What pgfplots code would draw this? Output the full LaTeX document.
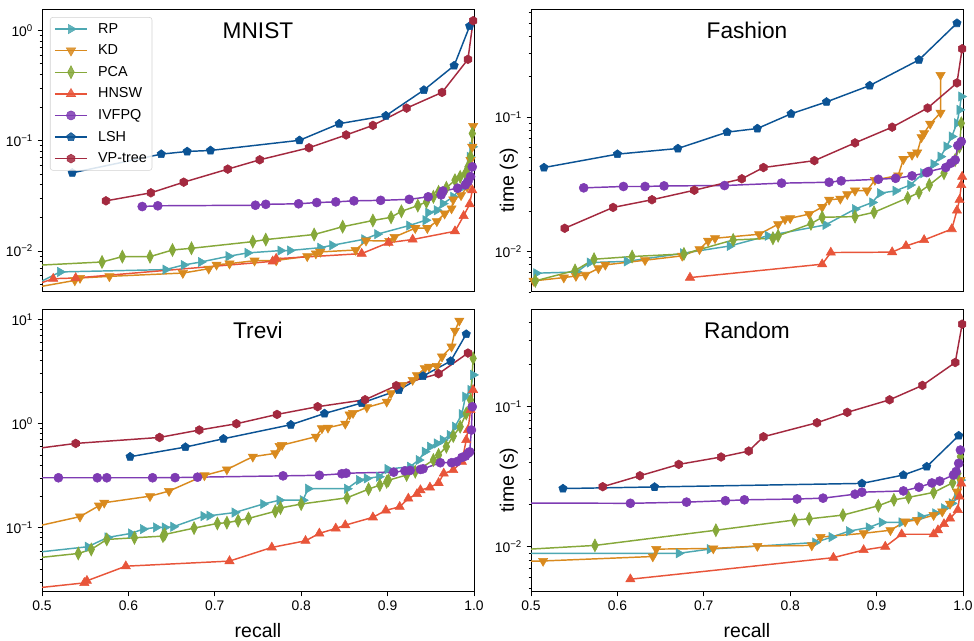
\documentclass[border=0pt]{standalone}
\usepackage{fontspec}
\setmainfont{Liberation Sans}
\usepackage{pgfplots}
\pgfplotsset{compat=1.18}
\usetikzlibrary{plotmarks}

\definecolor{cRP}{HTML}{4DA8B2}
\definecolor{cKD}{HTML}{D98A1E}
\definecolor{cPCA}{HTML}{86A83A}
\definecolor{cHNSW}{HTML}{E8553A}
\definecolor{cIVF}{HTML}{7E3BB3}
\definecolor{cLSH}{HTML}{0B5394}
\definecolor{cVP}{HTML}{A3293F}

% matplotlib 'h' marker
\pgfdeclareplotmark{hexagon*}{%
  \pgfpathmoveto{\pgfpointpolar{90}{\pgfplotmarksize}}%
  \pgfpathlineto{\pgfpointpolar{150}{\pgfplotmarksize}}%
  \pgfpathlineto{\pgfpointpolar{210}{\pgfplotmarksize}}%
  \pgfpathlineto{\pgfpointpolar{270}{\pgfplotmarksize}}%
  \pgfpathlineto{\pgfpointpolar{330}{\pgfplotmarksize}}%
  \pgfpathlineto{\pgfpointpolar{30}{\pgfplotmarksize}}%
  \pgfpathclose
  \pgfusepathqfillstroke}

\pgfplotsset{
  sRP/.style={color=cRP, mark=triangle*, mark size=4pt, mark options={solid, rotate=-90, line width=0.4pt}},
  sKD/.style={color=cKD, mark=triangle*, mark size=4pt, mark options={solid, rotate=180, line width=0.4pt}},
  sPCA/.style={color=cPCA, mark=diamond*, mark size=4.8pt, mark options={solid, xscale=0.68, line width=0.5pt}},
  sHNSW/.style={color=cHNSW, mark=triangle*, mark size=4pt, mark options={solid, line width=0.4pt}},
  sIVF/.style={color=cIVF, mark=*, mark size=3.4pt, mark options={solid, line width=0.4pt}},
  sLSH/.style={color=cLSH, mark=pentagon*, mark size=3.3pt, mark options={solid, line width=0.4pt}},
  sVP/.style={color=cVP, mark=hexagon*, mark size=3.3pt, mark options={solid, line width=0.4pt}},
  myPanel/.style={
    scale only axis, width=324pt, height=211.5pt,
    axis line style={line width=0.75pt},
    tick align=outside, xtick pos=bottom, ytick pos=left,
    major tick length=3.2pt, minor tick length=1.8pt,
    tick style={black, line width=0.6pt},
    tick label style={font=\fontsize{10.4}{12}\selectfont},
    yticklabel={\pgfmathtruncatemacro\myex{round(\tick/ln(10))}10\textsuperscript{\ifnum\myex<0 −\the\numexpr-\myex\relax\else\myex\fi}},
    every axis plot/.append style={line width=1.1pt},
    legend image code/.code={\draw[mark repeat=2, mark phase=2] plot coordinates {(0pt,0pt) (12pt,0pt) (24pt,0pt)}; \path (31pt,0pt);},
  },
  myTop/.style={myPanel, xtick=\empty},
  myBottom/.style={myPanel,
    xtick={0.5,0.6,0.7,0.8,0.9,1.0}, xticklabels={0.5,0.6,0.7,0.8,0.9,1.0},
    xlabel={recall},
    xlabel style={at={(axis description cs:0.5,-0.136)}, anchor=center, font=\fontsize{14.6}{17}\selectfont}},
  myTime/.style={ylabel={time (s)},
    ylabel style={at={(axis description cs:-0.0516,0.397)}, anchor=center, font=\fontsize{14.6}{17}\selectfont}},
}
\newcommand{\paneltitle}[1]{\node[font=\fontsize{17}{20}\selectfont, inner sep=0pt] at (rel axis cs:0.5,0.927) {#1};}

\begin{document}
\begin{tikzpicture}
\useasboundingbox (0pt,0pt) rectangle (730.5pt,480.75pt);

% ---------------- MNIST ----------------
\begin{axis}[myTop, ymode=log, xmin=0.5, xmax=1, at={(31.5pt,261.75pt)}, anchor=south west,
  ymin=0.00424, ymax=1.54,
  legend style={at={(0.0185,0.975)}, anchor=north west, draw=black!18, rounded corners=2pt,
    fill=white, fill opacity=0.85, text opacity=1, font=\fontsize{10.8}{12}\selectfont,
    row sep=4.6pt, inner xsep=3pt, inner ysep=3pt,
    nodes={inner sep=0.8pt, text height=8pt, text depth=2pt}},
  legend cell align=left]
\addplot[sRP] coordinates {(0.495,0.0051) (0.521,0.00645) (0.643,0.00677) (0.664,0.00746) (0.684,0.00794) (0.716,0.00895) (0.738,0.0096) (0.776,0.01007) (0.787,0.0101) (0.822,0.0107) (0.836,0.01126) (0.873,0.01277) (0.888,0.0142) (0.925,0.017) (0.944,0.019) (0.947,0.0223) (0.957,0.0234) (0.964,0.0269) (0.976,0.031) (0.984,0.0369) (0.992,0.0505) (0.995,0.0716) (0.998,0.0882)};
\addplot[sKD] coordinates {(0.495,0.0047) (0.538,0.0054) (0.544,0.00568) (0.578,0.00588) (0.663,0.0063) (0.693,0.0069) (0.702,0.0075) (0.717,0.00767) (0.746,0.00816) (0.771,0.00819) (0.807,0.00895) (0.817,0.00946) (0.822,0.0098) (0.863,0.0102) (0.875,0.0124) (0.902,0.0123) (0.908,0.0134) (0.932,0.0161) (0.946,0.0161) (0.957,0.0186) (0.966,0.0218) (0.974,0.0243) (0.976,0.0293) (0.985,0.032) (0.992,0.0382) (0.996,0.0667) (0.998,0.088) (0.999,0.136)};
\addplot[sPCA] coordinates {(0.40,0.0068) (0.5695,0.00794) (0.593,0.00888) (0.625,0.00888) (0.651,0.0102) (0.673,0.01057) (0.744,0.01215) (0.759,0.01268) (0.815,0.0141) (0.848,0.0166) (0.883,0.0189) (0.904,0.0202) (0.916,0.0229) (0.935,0.0258) (0.945,0.0279) (0.953,0.031) (0.959,0.0344) (0.968,0.0374) (0.978,0.0439) (0.984,0.0471) (0.990,0.0505) (0.993,0.058) (0.996,0.0716) (0.998,0.1166)};
\addplot[sHNSW] coordinates {(0.495,0.0050) (0.513,0.0056) (0.539,0.00568) (0.767,0.00805) (0.771,0.0085) (0.870,0.00946) (0.901,0.0119) (0.929,0.0127) (0.978,0.0151) (0.988,0.0208) (0.995,0.0266) (0.998,0.0356)};
\addplot[sIVF] coordinates {(0.616,0.0253) (0.634,0.0257) (0.747,0.026) (0.759,0.0265) (0.797,0.0268) (0.818,0.0275) (0.840,0.0279) (0.861,0.0285) (0.892,0.0288) (0.925,0.0294) (0.947,0.031) (0.962,0.0323) (0.964,0.035) (0.981,0.0371) (0.990,0.0398) (0.993,0.0426) (0.996,0.0473) (0.998,0.058)};
\addplot[sLSH] coordinates {(0.535,0.0512) (0.638,0.0757) (0.668,0.080) (0.695,0.0817) (0.798,0.101) (0.844,0.143) (0.898,0.169) (0.942,0.289) (0.977,0.481) (0.995,1.10)};
\addplot[sVP] coordinates {(0.574,0.0285) (0.626,0.0337) (0.664,0.0421) (0.715,0.0553) (0.752,0.0672) (0.809,0.0864) (0.852,0.113) (0.883,0.138) (0.922,0.198) (0.963,0.275) (0.993,0.549) (0.999,1.23)};
\legend{RP,KD,PCA,HNSW,IVFPQ,LSH,VP-tree}
\paneltitle{MNIST}
\end{axis}

% ---------------- Fashion ----------------
\begin{axis}[myTop, myTime, ymode=log, xmin=0.5, xmax=1, at={(398.25pt,261.75pt)}, anchor=south west,
  ymin=0.0050, ymax=0.628]
\addplot[sRP] coordinates {(0.506,0.0069) (0.553,0.00705) (0.568,0.00828) (0.611,0.00845) (0.676,0.00971) (0.730,0.011) (0.774,0.0131) (0.841,0.0158) (0.875,0.0207) (0.895,0.0232) (0.904,0.0272) (0.922,0.0283) (0.939,0.0313) (0.954,0.0383) (0.966,0.0447) (0.974,0.0509) (0.981,0.0605) (0.987,0.0718) (0.993,0.0902) (0.996,0.1134) (0.998,0.1426)};
\addplot[sKD] coordinates {(0.503,0.00605) (0.538,0.0064) (0.552,0.00658) (0.563,0.0067) (0.578,0.0075) (0.586,0.00796) (0.632,0.00862) (0.675,0.00929) (0.695,0.0104) (0.705,0.0120) (0.713,0.01256) (0.764,0.01345) (0.786,0.01597) (0.794,0.0174) (0.800,0.0177) (0.822,0.019) (0.837,0.0214) (0.845,0.0243) (0.858,0.0247) (0.866,0.0267) (0.875,0.0284) (0.889,0.0284) (0.898,0.0341) (0.925,0.0368) (0.931,0.0487) (0.941,0.0524) (0.947,0.0546) (0.952,0.071) (0.955,0.076) (0.962,0.0892) (0.974,0.108) (0.974,0.206)};
\addplot[sPCA] coordinates {(0.505,0.00605) (0.551,0.00723) (0.573,0.00877) (0.617,0.00918) (0.677,0.0096) (0.734,0.0122) (0.780,0.01256) (0.786,0.0131) (0.824,0.0161) (0.837,0.018) (0.875,0.0182) (0.897,0.0196) (0.936,0.0251) (0.949,0.0275) (0.961,0.0313) (0.978,0.0383) (0.991,0.0481) (0.996,0.0605) (0.998,0.0902)};
\addplot[sHNSW] coordinates {(0.684,0.0064) (0.837,0.00805) (0.847,0.00983) (0.918,0.0099) (0.934,0.011) (0.955,0.0122) (0.987,0.0147) (0.993,0.0202) (0.996,0.0243) (0.998,0.0313) (0.999,0.0361)};
\addplot[sIVF] coordinates {(0.561,0.0298) (0.607,0.0305) (0.632,0.0305) (0.654,0.0308) (0.724,0.031) (0.790,0.0323) (0.845,0.0328) (0.859,0.0336) (0.902,0.0345) (0.922,0.0351) (0.941,0.0366) (0.958,0.0387) (0.960,0.0394) (0.980,0.0422) (0.986,0.0455) (0.991,0.0481) (0.994,0.0615) (0.998,0.0659)};
\addplot[sLSH] coordinates {(0.515,0.0422) (0.600,0.0531) (0.670,0.0585) (0.727,0.0774) (0.762,0.0824) (0.801,0.106) (0.842,0.130) (0.892,0.172) (0.949,0.267) (0.993,0.501)};
\addplot[sVP] coordinates {(0.539,0.0149) (0.595,0.0213) (0.640,0.0243) (0.689,0.0286) (0.744,0.0348) (0.769,0.0422) (0.828,0.0475) (0.875,0.0644) (0.918,0.0843) (0.959,0.117) (0.993,0.180) (0.999,0.323)};
\paneltitle{Fashion}
\end{axis}

% ---------------- Trevi ----------------
\begin{axis}[myBottom, ymode=log, xmin=0.5, xmax=1, at={(31.5pt,36.75pt)}, anchor=south west,
  ymin=0.0242, ymax=12.3]
\addplot[sRP] coordinates {(0.46,0.0542) (0.553,0.0658) (0.576,0.0808) (0.603,0.0883) (0.617,0.0971) (0.632,0.1008) (0.642,0.1008) (0.652,0.1023) (0.687,0.1295) (0.694,0.1305) (0.723,0.140) (0.756,0.169) (0.775,0.184) (0.802,0.184) (0.808,0.237) (0.853,0.237) (0.867,0.287) (0.876,0.298) (0.890,0.309) (0.900,0.366) (0.926,0.385) (0.936,0.447) (0.943,0.537) (0.949,0.600) (0.957,0.645) (0.964,0.695) (0.972,0.776) (0.978,0.933) (0.986,1.23) (0.990,1.81) (0.996,2.10) (0.999,2.93)};
\addplot[sKD] coordinates {(0.46,0.0895) (0.544,0.128) (0.566,0.163) (0.572,0.174) (0.625,0.201) (0.647,0.225) (0.688,0.318) (0.714,0.363) (0.744,0.481) (0.770,0.518) (0.775,0.608) (0.778,0.622) (0.817,0.748) (0.824,0.899) (0.831,0.913) (0.851,0.996) (0.856,1.22) (0.860,1.26) (0.876,1.43) (0.899,1.62) (0.904,1.95) (0.917,2.34) (0.929,2.62) (0.934,2.90) (0.943,3.39) (0.948,3.51) (0.957,3.57) (0.963,4.39) (0.974,5.47) (0.978,7.78) (0.983,9.71)};
\addplot[sPCA] coordinates {(0.46,0.048) (0.542,0.0567) (0.557,0.062) (0.575,0.0773) (0.607,0.0802) (0.640,0.0832) (0.642,0.0863) (0.676,0.0993) (0.703,0.110) (0.714,0.112) (0.727,0.117) (0.739,0.123) (0.770,0.144) (0.776,0.155) (0.800,0.169) (0.853,0.194) (0.878,0.235) (0.891,0.257) (0.899,0.276) (0.901,0.286) (0.922,0.321) (0.932,0.345) (0.953,0.447) (0.959,0.50) (0.968,0.60) (0.976,0.759) (0.984,0.933) (0.991,1.25) (0.996,1.68) (0.999,4.23)};
\addplot[sHNSW] coordinates {(0.46,0.0247) (0.549,0.0296) (0.552,0.031) (0.597,0.0428) (0.717,0.0479) (0.766,0.0648) (0.805,0.075) (0.821,0.0883) (0.840,0.0986) (0.851,0.106) (0.883,0.126) (0.898,0.147) (0.914,0.159) (0.924,0.191) (0.934,0.211) (0.938,0.230) (0.949,0.244) (0.959,0.270) (0.965,0.332) (0.976,0.358) (0.986,0.431) (0.991,0.695) (0.993,0.867) (0.996,1.35) (0.999,2.10)};
\addplot[sIVF] coordinates {(0.46,0.302) (0.519,0.302) (0.564,0.302) (0.575,0.302) (0.628,0.302) (0.654,0.303) (0.680,0.306) (0.779,0.315) (0.821,0.319) (0.847,0.330) (0.852,0.334) (0.907,0.342) (0.920,0.352) (0.926,0.355) (0.938,0.363) (0.941,0.368) (0.961,0.421) (0.974,0.421) (0.980,0.430) (0.986,0.473) (0.990,0.487) (0.993,0.518) (0.995,0.536) (0.997,0.867) (0.998,1.45)};
\addplot[sLSH] coordinates {(0.602,0.481) (0.666,0.595) (0.710,0.715) (0.788,0.975) (0.827,1.25) (0.870,1.575) (0.913,2.10) (0.941,2.86) (0.973,3.98) (0.991,7.22)};
\addplot[sVP] coordinates {(0.46,0.53) (0.539,0.645) (0.636,0.736) (0.682,0.867) (0.725,0.996) (0.772,1.224) (0.819,1.452) (0.874,1.694) (0.910,2.31) (0.959,3.01) (0.993,4.75)};
\paneltitle{Trevi}
\end{axis}

% ---------------- Random ----------------
\begin{axis}[myBottom, myTime, ymode=log, xmin=0.5, xmax=1, at={(398.25pt,36.75pt)}, anchor=south west,
  ymin=0.00474, ymax=0.491]
\addplot[sRP] coordinates {(0.46,0.00896) (0.671,0.00896) (0.707,0.0096) (0.829,0.0107) (0.848,0.0117) (0.868,0.0129) (0.891,0.0137) (0.906,0.0149) (0.929,0.0149) (0.951,0.0164) (0.968,0.0173) (0.978,0.0188) (0.987,0.0204) (0.993,0.0228) (0.997,0.0299)};
\addplot[sKD] coordinates {(0.46,0.0078) (0.514,0.0079) (0.641,0.0085) (0.645,0.0096) (0.711,0.0097) (0.762,0.0101) (0.825,0.0102) (0.835,0.0117) (0.885,0.01245) (0.916,0.0131) (0.933,0.0151) (0.947,0.0155) (0.966,0.0168) (0.976,0.0178) (0.985,0.0202) (0.993,0.0247) (0.997,0.0299)};
\addplot[sPCA] coordinates {(0.46,0.0093) (0.574,0.0102) (0.714,0.0131) (0.805,0.0155) (0.822,0.0158) (0.861,0.0168) (0.902,0.0196) (0.920,0.0216) (0.937,0.0225) (0.966,0.0244) (0.988,0.0286) (0.994,0.0334) (0.997,0.044)};
\addplot[sHNSW] coordinates {(0.615,0.00585) (0.850,0.00834) (0.885,0.00946) (0.910,0.0100) (0.929,0.01226) (0.966,0.01226) (0.971,0.0131) (0.978,0.0145) (0.985,0.0159) (0.994,0.0183) (0.996,0.0228) (0.998,0.0283)};
\addplot[sIVF] coordinates {(0.46,0.0205) (0.615,0.0204) (0.680,0.0208) (0.725,0.0213) (0.747,0.0216) (0.808,0.0219) (0.838,0.0222) (0.875,0.0237) (0.883,0.0245) (0.931,0.025) (0.949,0.0266) (0.964,0.0285) (0.973,0.0294) (0.989,0.0325) (0.992,0.0344) (0.995,0.0394) (0.997,0.049)};
\addplot[sLSH] coordinates {(0.537,0.0260) (0.643,0.0267) (0.883,0.0283) (0.931,0.0325) (0.958,0.0373) (0.995,0.0621)};
\addplot[sVP] coordinates {(0.583,0.0268) (0.626,0.0321) (0.671,0.0387) (0.720,0.0437) (0.752,0.0482) (0.769,0.0610) (0.831,0.0768) (0.866,0.0911) (0.915,0.112) (0.953,0.142) (0.991,0.207) (0.999,0.389)};
\paneltitle{Random}
\end{axis}
\end{tikzpicture}
\end{document}
